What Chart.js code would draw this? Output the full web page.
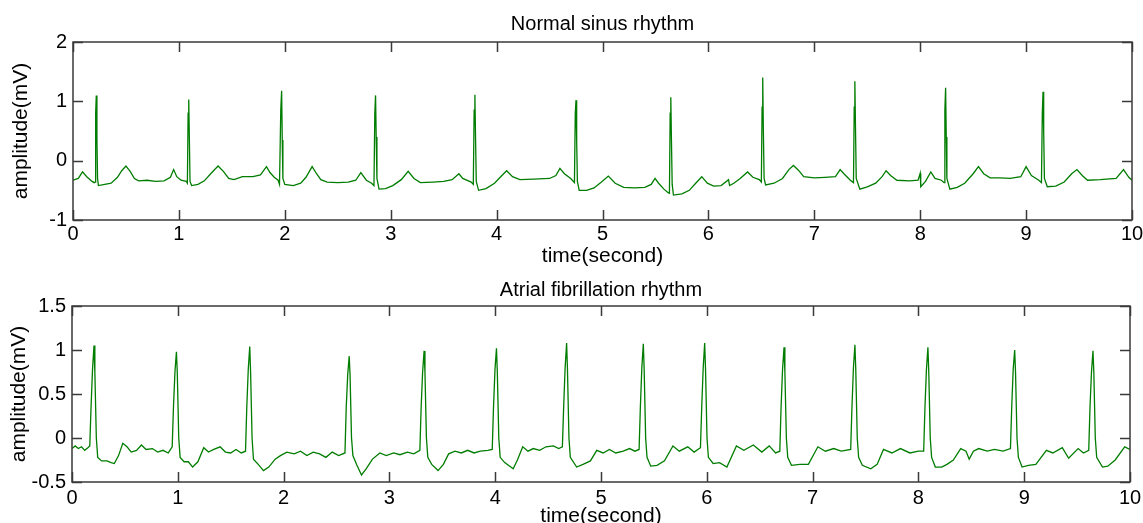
<!DOCTYPE html>
<html>
<head>
<meta charset="utf-8">
<script src="https://cdn.jsdelivr.net/npm/chart.js@4.4.0/dist/chart.umd.min.js"></script>
<style>
  html, body { margin: 0; padding: 0; background: #fff; overflow: hidden; width: 1143px; height: 523px; }
  canvas { position: absolute; left: 0; }
  #nsr { top: 0; }
  #af { top: 262px; }
</style>
</head>
<body>
<canvas id="nsr" width="1143" height="275"></canvas>
<canvas id="af" width="1143" height="275"></canvas>
<script>
// tick labels
var xTicks = [0, 1, 2, 3, 4, 5, 6, 7, 8, 9, 10];
var nsrYTicks = [-1, 0, 1, 2];
var afYTicks = [-0.5, 0, 0.5, 1, 1.5];

// Normal sinus rhythm (seconds, mV)
var nsrTime = [
  0.00, 0.05, 0.09, 0.13, 0.18, 0.20, 0.208, 0.214, 0.220, 0.226, 0.232, 0.24, 0.30, 0.36, 0.42, 0.46, 0.50, 0.54, 0.58, 0.62,
  0.70, 0.78, 0.86, 0.92, 0.95, 0.98, 1.02, 1.07, 1.08, 1.087, 1.093, 1.099, 1.105, 1.12, 1.18, 1.24, 1.30, 1.37, 1.42, 1.47,
  1.52, 1.60, 1.70, 1.77, 1.827, 1.86, 1.90, 1.937, 1.950, 1.962, 1.970, 1.976, 1.982, 2.00, 2.08, 2.15, 2.20, 2.258, 2.30, 2.34,
  2.40, 2.50, 2.60, 2.67, 2.718, 2.77, 2.82, 2.842, 2.850, 2.857, 2.863, 2.870, 2.89, 2.95, 3.02, 3.10, 3.165, 3.22, 3.28, 3.40,
  3.50, 3.58, 3.644, 3.68, 3.76, 3.78, 3.788, 3.795, 3.801, 3.808, 3.83, 3.90, 3.98, 4.05, 4.095, 4.15, 4.22, 4.35, 4.50, 4.56,
  4.598, 4.64, 4.70, 4.735, 4.743, 4.750, 4.756, 4.763, 4.78, 4.85, 4.92, 4.99, 5.055, 5.12, 5.20, 5.30, 5.40, 5.46, 5.496, 5.53,
  5.58, 5.62, 5.632, 5.639, 5.645, 5.651, 5.658, 5.67, 5.75, 5.82, 5.88, 5.937, 5.99, 6.05, 6.12, 6.19, 6.20, 6.24, 6.30, 6.37,
  6.42, 6.48, 6.50, 6.507, 6.513, 6.519, 6.526, 6.54, 6.62, 6.70, 6.76, 6.803, 6.85, 6.90, 7.00, 7.10, 7.20, 7.244, 7.28, 7.34,
  7.37, 7.377, 7.383, 7.389, 7.396, 7.43, 7.50, 7.58, 7.64, 7.678, 7.72, 7.78, 7.90, 7.98, 8.00, 8.005, 8.05, 8.10, 8.14, 8.20,
  8.225, 8.233, 8.240, 8.246, 8.252, 8.28, 8.35, 8.42, 8.50, 8.55, 8.60, 8.66, 8.75, 8.85, 8.95, 9.00, 9.05, 9.12, 9.145, 9.153,
  9.160, 9.166, 9.173, 9.20, 9.28, 9.36, 9.43, 9.48, 9.53, 9.58, 9.70, 9.85, 9.92, 9.97, 10.00
];
var nsrAmp = [
  -0.33, -0.30, -0.19, -0.27, -0.35, -0.37, -0.36, 0.80, 1.10, 0.35, -0.30, -0.42, -0.40, -0.38, -0.28, -0.17, -0.09, -0.18, -0.30, -0.34,
  -0.33, -0.35, -0.34, -0.28, -0.15, -0.27, -0.33, -0.35, -0.38, 0.80, 1.03, 0.35, -0.35, -0.42, -0.40, -0.34, -0.22, -0.09, -0.18, -0.30,
  -0.32, -0.27, -0.27, -0.24, -0.10, -0.20, -0.28, -0.33, -0.40, 0.85, 1.18, 0.35, -0.30, -0.40, -0.42, -0.38, -0.28, -0.10, -0.22, -0.32,
  -0.36, -0.37, -0.36, -0.33, -0.20, -0.33, -0.38, -0.42, 0.80, 1.10, 0.40, -0.30, -0.48, -0.47, -0.42, -0.32, -0.18, -0.30, -0.37, -0.36,
  -0.35, -0.32, -0.22, -0.30, -0.36, -0.40, 0.85, 1.11, 0.40, -0.35, -0.50, -0.47, -0.38, -0.25, -0.17, -0.27, -0.32, -0.31, -0.30, -0.25,
  -0.13, -0.22, -0.30, -0.37, 0.80, 1.02, 0.35, -0.35, -0.50, -0.50, -0.46, -0.36, -0.26, -0.38, -0.45, -0.46, -0.45, -0.40, -0.30, -0.38,
  -0.48, -0.54, -0.55, 0.80, 1.07, 0.35, -0.40, -0.58, -0.56, -0.50, -0.38, -0.27, -0.38, -0.43, -0.42, -0.32, -0.42, -0.38, -0.30, -0.19,
  -0.28, -0.32, -0.36, 0.90, 1.40, 0.50, -0.30, -0.41, -0.38, -0.30, -0.15, -0.08, -0.16, -0.27, -0.29, -0.28, -0.27, -0.15, -0.22, -0.33,
  -0.37, 0.90, 1.34, 0.55, -0.30, -0.48, -0.44, -0.38, -0.27, -0.17, -0.25, -0.33, -0.34, -0.33, -0.21, -0.44, -0.35, -0.19, -0.30, -0.33,
  -0.37, 0.85, 1.23, 0.40, -0.30, -0.48, -0.45, -0.38, -0.22, -0.10, -0.22, -0.29, -0.29, -0.30, -0.27, -0.10, -0.25, -0.33, -0.37, 0.80,
  1.16, 0.50, -0.30, -0.44, -0.43, -0.36, -0.22, -0.15, -0.25, -0.33, -0.32, -0.30, -0.15, -0.28, -0.33
];

// Atrial fibrillation rhythm (seconds, mV)
var afTime = [
  0.00, 0.03, 0.06, 0.09, 0.12, 0.15, 0.168, 0.180, 0.194, 0.208, 0.216, 0.230, 0.243, 0.28, 0.33, 0.37, 0.40, 0.44, 0.48, 0.52,
  0.56, 0.61, 0.656, 0.70, 0.76, 0.81, 0.86, 0.91, 0.947, 0.959, 0.973, 0.987, 0.995, 1.009, 1.022, 1.06, 1.10, 1.14, 1.19, 1.245,
  1.29, 1.34, 1.40, 1.45, 1.50, 1.55, 1.60, 1.640, 1.652, 1.666, 1.680, 1.688, 1.702, 1.715, 1.76, 1.81, 1.86, 1.92, 1.97, 2.03,
  2.10, 2.16, 2.22, 2.28, 2.34, 2.40, 2.46, 2.52, 2.580, 2.592, 2.606, 2.620, 2.628, 2.642, 2.655, 2.69, 2.736, 2.78, 2.84, 2.91,
  2.97, 3.04, 3.10, 3.17, 3.23, 3.288, 3.300, 3.314, 3.328, 3.336, 3.350, 3.363, 3.40, 3.46, 3.51, 3.56, 3.62, 3.68, 3.74, 3.80,
  3.86, 3.93, 3.972, 3.984, 3.998, 4.012, 4.020, 4.034, 4.047, 4.09, 4.17, 4.21, 4.26, 4.31, 4.36, 4.42, 4.48, 4.55, 4.60, 4.635,
  4.647, 4.661, 4.675, 4.683, 4.697, 4.710, 4.77, 4.83, 4.90, 4.96, 5.02, 5.08, 5.14, 5.21, 5.27, 5.32, 5.360, 5.372, 5.386, 5.400,
  5.408, 5.422, 5.435, 5.47, 5.53, 5.60, 5.68, 5.74, 5.82, 5.88, 5.940, 5.952, 5.966, 5.980, 5.988, 6.002, 6.015, 6.06, 6.12, 6.19,
  6.28, 6.35, 6.44, 6.52, 6.59, 6.65, 6.690, 6.702, 6.716, 6.730, 6.738, 6.752, 6.765, 6.80, 6.88, 6.96, 7.05, 7.12, 7.20, 7.27,
  7.360, 7.372, 7.386, 7.400, 7.408, 7.422, 7.435, 7.47, 7.55, 7.61, 7.67, 7.75, 7.83, 7.92, 8.00, 8.050, 8.062, 8.076, 8.090, 8.098,
  8.112, 8.125, 8.16, 8.22, 8.27, 8.33, 8.40, 8.45, 8.48, 8.52, 8.57, 8.65, 8.72, 8.80, 8.870, 8.882, 8.896, 8.910, 8.918, 8.932,
  8.945, 8.98, 9.04, 9.11, 9.21, 9.27, 9.36, 9.42, 9.51, 9.56, 9.610, 9.622, 9.636, 9.650, 9.658, 9.672, 9.685, 9.74, 9.79, 9.86,
  9.95, 10.00
];
var afAmp = [
  -0.12, -0.09, -0.12, -0.10, -0.14, -0.11, -0.09, 0.35, 0.78, 1.05, 0.75, 0.00, -0.22, -0.26, -0.26, -0.28, -0.29, -0.20, -0.06, -0.10,
  -0.16, -0.14, -0.08, -0.13, -0.12, -0.16, -0.14, -0.17, -0.10, 0.35, 0.75, 0.98, 0.75, 0.00, -0.22, -0.27, -0.27, -0.33, -0.27, -0.11,
  -0.16, -0.13, -0.10, -0.16, -0.17, -0.13, -0.17, -0.15, 0.35, 0.78, 1.04, 0.75, 0.00, -0.24, -0.30, -0.37, -0.33, -0.24, -0.20, -0.16,
  -0.18, -0.15, -0.20, -0.16, -0.18, -0.22, -0.16, -0.20, -0.17, 0.35, 0.72, 0.93, 0.72, 0.00, -0.20, -0.30, -0.42, -0.35, -0.24, -0.17,
  -0.20, -0.17, -0.19, -0.16, -0.18, -0.14, 0.35, 0.75, 0.99, 0.75, 0.00, -0.22, -0.30, -0.37, -0.30, -0.18, -0.15, -0.17, -0.14, -0.17,
  -0.15, -0.14, -0.13, 0.35, 0.78, 1.02, 0.75, 0.00, -0.22, -0.28, -0.35, -0.25, -0.10, -0.15, -0.12, -0.14, -0.10, -0.09, -0.12, -0.10,
  0.35, 0.80, 1.08, 0.78, 0.00, -0.22, -0.33, -0.30, -0.26, -0.14, -0.17, -0.13, -0.17, -0.15, -0.12, -0.15, -0.13, 0.35, 0.80, 1.07,
  0.78, 0.00, -0.22, -0.32, -0.31, -0.26, -0.09, -0.15, -0.10, -0.16, -0.11, 0.35, 0.80, 1.08, 0.78, 0.00, -0.22, -0.29, -0.28, -0.33,
  -0.09, -0.14, -0.08, -0.16, -0.09, -0.17, -0.15, 0.35, 0.78, 1.03, 0.75, 0.00, -0.22, -0.31, -0.30, -0.30, -0.10, -0.15, -0.12, -0.15,
  -0.13, 0.35, 0.80, 1.06, 0.78, 0.00, -0.22, -0.31, -0.35, -0.30, -0.13, -0.17, -0.12, -0.17, -0.15, -0.15, 0.35, 0.78, 1.03, 0.75,
  0.00, -0.22, -0.33, -0.33, -0.30, -0.25, -0.12, -0.15, -0.24, -0.15, -0.12, -0.15, -0.13, -0.15, -0.12, 0.35, 0.78, 1.00, 0.75, 0.00,
  -0.22, -0.33, -0.31, -0.30, -0.14, -0.17, -0.11, -0.23, -0.12, -0.17, -0.14, 0.35, 0.75, 0.99, 0.75, 0.00, -0.22, -0.33, -0.32, -0.25,
  -0.10, -0.13
];

var FONT = '"Liberation Sans", Arial, Helvetica, sans-serif';

// matlab style box with ticks pointing inward
var boxTicks = {
  id: 'boxTicks',
  afterDraw: function(chart) {
    var ctx = chart.ctx, a = chart.chartArea, sx = chart.scales.x, sy = chart.scales.y;
    ctx.save();
    ctx.strokeStyle = '#3a3a3a';
    ctx.lineWidth = 1.5;
    ctx.beginPath();
    sx.ticks.forEach(function(t) {
      var px = Math.round(sx.getPixelForValue(t.value)) + 0.5;
      ctx.moveTo(px, a.bottom); ctx.lineTo(px, a.bottom - 10);
      ctx.moveTo(px, a.top); ctx.lineTo(px, a.top + 10);
    });
    sy.ticks.forEach(function(t) {
      var py = Math.round(sy.getPixelForValue(t.value)) + 0.5;
      ctx.moveTo(a.left, py); ctx.lineTo(a.left + 10, py);
      ctx.moveTo(a.right, py); ctx.lineTo(a.right - 10, py);
    });
    ctx.stroke();
    ctx.strokeRect(a.left, a.top, a.right - a.left, a.bottom - a.top);
    ctx.restore();
  }
};

function makeChart(id, times, amps, cfg) {
  var points = times.map(function(t, i) { return {x: t, y: amps[i]}; });
  var ctx = document.getElementById(id).getContext('2d');
  return new Chart(ctx, {
    type: 'line',
    data: {
      datasets: [{
        data: points,
        borderColor: 'rgb(0, 125, 0)',
        borderWidth: 1.3,
        pointRadius: 0,
        tension: 0,
        fill: false
      }]
    },
    options: {
      responsive: false,
      animation: false,
      events: [],
      layout: { padding: { left: 0, right: cfg.right, top: 0, bottom: 0 } },
      plugins: { legend: { display: false }, tooltip: { enabled: false } },
      scales: {
        x: {
          type: 'linear', position: 'bottom', min: 0, max: 10,
          afterBuildTicks: function(s) { s.ticks = xTicks.map(function(v) { return {value: v}; }); },
          afterFit: function(s) { s.height = 275 - cfg.bottom; },
          grid: { display: false },
          border: { display: false },
          ticks: { color: '#000', padding: cfg.xPad, maxRotation: 0, autoSkip: false,
                   font: { family: FONT, size: 20 }, callback: function(v) { return String(v); } },
          title: { display: true, text: 'time(second)', color: '#000',
                   font: { family: FONT, size: 21 }, padding: { top: 0, bottom: cfg.xTitlePad } }
        },
        top: {
          type: 'linear', position: 'top', min: 0, max: 10,
          afterFit: function(s) { s.height = cfg.top; },
          grid: { display: false },
          border: { display: false },
          ticks: { display: false },
          title: { display: true, text: cfg.title, color: '#000',
                   font: { family: FONT, size: 20 }, padding: { top: cfg.titlePad, bottom: 0 } }
        },
        y: {
          type: 'linear', position: 'left', min: cfg.yMin, max: cfg.yMax,
          afterBuildTicks: function(s) { s.ticks = cfg.yTicks.map(function(v) { return {value: v}; }); },
          afterFit: function(s) { s.width = cfg.left; },
          grid: { display: false },
          border: { display: false },
          ticks: { color: '#000', padding: -2, autoSkip: false,
                   font: { family: FONT, size: 20 }, callback: function(v) { return String(v); } },
          title: { display: true, text: 'amplitude(mV)', color: '#000',
                   font: { family: FONT, size: 21 }, padding: { top: cfg.yTitlePad, bottom: 0 } }
        }
      }
    },
    plugins: [boxTicks]
  });
}

makeChart('nsr', nsrTime, nsrAmp, {
  title: 'Normal sinus rhythm', yMin: -1, yMax: 2, yTicks: nsrYTicks,
  left: 73, right: 11, top: 42, bottom: 220, xPad: -6, xTitlePad: 6, titlePad: 12, yTitlePad: 9
});
makeChart('af', afTime, afAmp, {
  title: 'Atrial fibrillation rhythm', yMin: -0.5, yMax: 1.5, yTicks: afYTicks,
  left: 72, right: 13, top: 44, bottom: 220, xPad: -4, xTitlePad: 8, titlePad: 16, yTitlePad: 7
});
</script>
</body>
</html>
